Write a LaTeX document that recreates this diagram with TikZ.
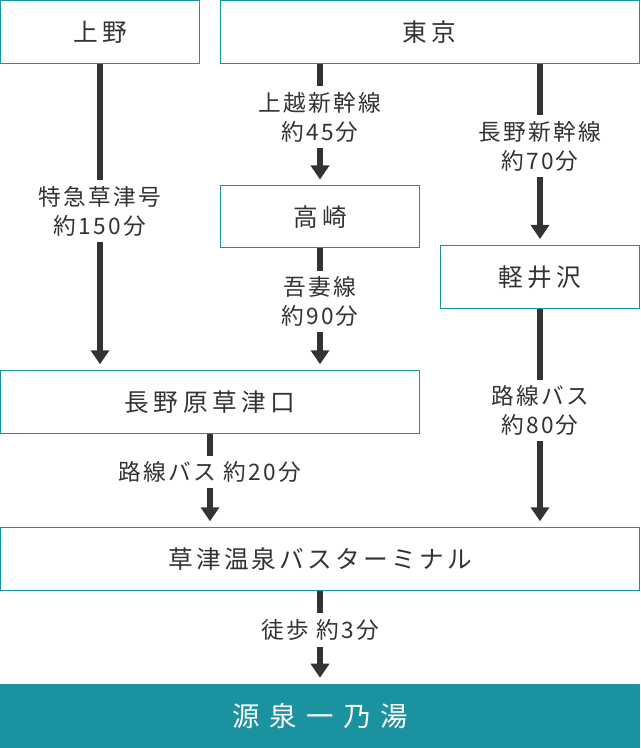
\documentclass[tikz,border=0pt]{standalone}
\usepackage{fontspec}
\setmainfont{Noto Sans CJK JP}
\newfontfamily\boxfont[LetterSpace=18]{Noto Sans CJK JP}
\newfontfamily\termfont[LetterSpace=13]{Noto Sans CJK JP}
\newfontfamily\labfont[LetterSpace=10]{Noto Sans CJK JP}
\newfontfamily\endfont[LetterSpace=35]{Noto Sans CJK JP}
\usetikzlibrary{arrows.meta}
\definecolor{teal1}{HTML}{1A929F}
\definecolor{ink}{HTML}{333333}
\begin{document}
\begin{tikzpicture}[x=0.75pt,y=-0.75pt,
 stbox/.style={draw=teal1, line width=0.75pt, text=ink, font=\boxfont\fontsize{18.5pt}{22pt}\selectfont, inner sep=0pt},
 endbox/.style={fill=teal1, text=white, font=\endfont\fontsize{20.5pt}{24pt}\selectfont, inner sep=0pt},
 lab/.style={fill=white, text=ink, font=\labfont\fontsize{17pt}{21.75pt}\selectfont, align=center, inner xsep=2pt, inner ysep=4.5pt},
 arr/.style={draw=ink, line width=4.5pt, -{Triangle[width=13.5pt,length=10.5pt]}, shorten >=4.5pt}]
\useasboundingbox (0,0) rectangle (640,748);
\node[stbox, minimum width=199*0.75pt, minimum height=63*0.75pt] (ueno) at (100,32) {上野};
\node[stbox, minimum width=419*0.75pt, minimum height=63*0.75pt] (tokyo) at (429.5,32) {東京};
\node[stbox, minimum width=199*0.75pt, minimum height=62*0.75pt] (takasaki) at (320,217) {高崎};
\node[stbox, minimum width=199*0.75pt, minimum height=63*0.75pt] (karuizawa) at (540,277) {軽井沢};
\node[stbox, minimum width=419*0.75pt, minimum height=62.5*0.75pt] (naga) at (210,402) {長野原草津口};
\node[stbox, font=\termfont\fontsize{18.5pt}{22pt}\selectfont, minimum width=639*0.75pt, minimum height=62.5*0.75pt] (terminal) at (320,559) {草津温泉バスターミナル};
\node[endbox, minimum width=640*0.75pt, minimum height=64*0.75pt] (gensen) at (320,716) {源泉一乃湯};
\draw[arr] (ueno.south) -- (ueno.south |- naga.north);
\draw[arr] (tokyo.south -| takasaki.north) -- (takasaki.north);
\draw[arr] (tokyo.south -| karuizawa.north) -- (karuizawa.north);
\draw[arr] (takasaki.south) -- (takasaki.south |- naga.north);
\draw[arr] (karuizawa.south) -- (karuizawa.south |- terminal.north);
\draw[arr] (naga.south) -- (naga.south |- terminal.north);
\draw[arr] (terminal.south) -- (gensen.north);
\node[lab] (l1) at (100,211) {特急草津号\\約150分};
\node[lab] (l2) at (320,117) {上越新幹線\\約45分};
\node[lab] (l3) at (540,146) {長野新幹線\\約70分};
\node[lab] (l4) at (320,301.5) {吾妻線\\約90分};
\node[lab] (l5) at (540,410.5) {路線バス\\約80分};
\node[lab] (l6) at (210,472) {路線バス 約20分};
\node[lab] (l7) at (320,630) {徒歩 約3分};
\end{tikzpicture}
\end{document}
